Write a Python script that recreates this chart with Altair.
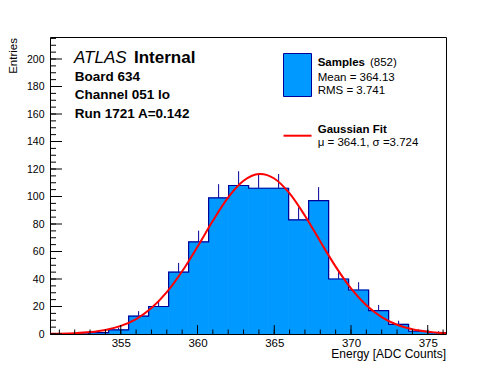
import altair as alt
import pandas as pd
import math

# ---------------- data ----------------
BIN_START = 350.30
BIN_WIDTH = 1.303
COUNTS = [0, 0, 1, 3, 13, 20, 45, 67, 99, 108, 106, 106, 83, 97, 40, 32, 17, 7, 2, 1]

FIT_X = [350.4, 351, 352, 353, 354, 355, 356, 357, 358, 359, 360, 361, 362, 363,
         364, 364.1, 365, 366, 367, 368, 369, 370, 371, 372, 373, 374, 375, 376, 376.2]
FIT_Y = [0.13, 0.24, 0.59, 1.37, 2.94, 5.88, 10.9, 18.9, 30.4, 45.6, 63.5, 82.3, 99.3, 111.4,
         116.4, 116.4, 113.1, 102.2, 86.0, 67.3, 49.0, 33.2, 20.9, 12.3, 6.7, 3.4, 1.6, 0.71, 0.59]

X_DOMAIN = [350.39, 376.19]
Y_DOMAIN = [0, 216]
X_MAJOR = [355, 360, 365, 370, 375]
X_MINOR = list(range(351, 377))
Y_MAJOR = list(range(0, 201, 20))
Y_MINOR = list(range(0, 216, 5))

W, H = 396, 297
FONT = "Liberation Sans"
FILL = "#0099ff"
EDGE = "#000099"

# ---------------- tables ----------------
lo = [BIN_START + i * BIN_WIDTH for i in range(len(COUNTS))]
hi = [v + BIN_WIDTH for v in lo]
bins = pd.DataFrame({
    "lo": lo, "hi": hi, "count": COUNTS,
    "center": [(a + b) / 2 for a, b in zip(lo, hi)],
})
bins["elo"] = [c - math.sqrt(c) for c in COUNTS]
bins["ehi"] = [c + math.sqrt(c) for c in COUNTS]
steps = pd.DataFrame({"x": lo + [hi[-1]], "y": COUNTS + [COUNTS[-1]]})
fit = pd.DataFrame({"x": FIT_X, "y": FIT_Y})

xs = alt.Scale(domain=X_DOMAIN, nice=False, zero=False)
ys = alt.Scale(domain=Y_DOMAIN, nice=False, zero=False)

xaxis = alt.Axis(values=X_MAJOR, ticks=False, tickSize=0, domain=False, grid=False,
                 labelFont=FONT, labelFontSize=11.5, labelPadding=3, labelColor="black",
                 title=None, format="d")
yaxis = alt.Axis(values=Y_MAJOR, ticks=False, tickSize=0, domain=False, grid=False,
                 labelFont=FONT, labelFontSize=10.5, labelPadding=6, labelColor="black",
                 title=None, format="d")

def X(field):
    return alt.X(field, scale=xs, axis=xaxis)

def Y(field):
    return alt.Y(field, scale=ys, axis=yaxis)

err = alt.Chart(bins[bins["count"] > 0]).mark_rule(color=EDGE, strokeWidth=1, clip=True).encode(
    x=X("center:Q"), y=Y("elo:Q"), y2="ehi:Q",
)
bars = alt.Chart(bins).mark_rect(color=FILL, stroke=FILL, strokeWidth=0.8, clip=True).encode(
    x=X("lo:Q"), x2="hi:Q", y=Y("count:Q"), y2=alt.datum(0),
)
outline = alt.Chart(steps).mark_line(color=EDGE, strokeWidth=1.2, interpolate="step-after", clip=True).encode(
    x=X("x:Q"), y=Y("y:Q"),
)
curve = alt.Chart(fit).mark_line(color="#ff0000", strokeWidth=2, interpolate="monotone", clip=True).encode(
    x=X("x:Q"), y=Y("y:Q"),
)

def xticks(vals, length):
    return alt.Chart(pd.DataFrame({"v": vals})).mark_rule(color="black", strokeWidth=1).encode(
        x=X("v:Q"), y=alt.value(H), y2=alt.value(H - length))

def yticks(vals, length):
    return alt.Chart(pd.DataFrame({"v": vals})).mark_rule(color="black", strokeWidth=1).encode(
        y=Y("v:Q"), x=alt.value(0), x2=alt.value(length))

def label(text, x, y, size, weight="normal", style="normal", align="left", angle=0):
    return alt.Chart(pd.DataFrame({"t": [text]})).mark_text(
        font=FONT, fontSize=size, fontWeight=weight, fontStyle=style, align=align,
        baseline="alphabetic", color="black", angle=angle,
    ).encode(text="t:N", x=alt.value(x), y=alt.value(y))

legend_box = alt.Chart(pd.DataFrame({"a": [0]})).mark_rect(color=FILL, stroke=EDGE, strokeWidth=1).encode(
    x=alt.value(233.5), x2=alt.value(261.5), y=alt.value(16.5), y2=alt.value(59.5))
legend_line = alt.Chart(pd.DataFrame({"a": [0]})).mark_rule(color="#ff0000", strokeWidth=2).encode(
    x=alt.value(233.5), x2=alt.value(261.5), y=alt.value(98.7))

texts = [
    label("ATLAS", 24, 25.7, 17, style="italic"),
    label("Internal", 84, 25.7, 17, weight="bold"),
    label("Board 634", 24.7, 44, 13.5, weight="bold"),
    label("Channel 051 lo", 24.7, 62, 13.5, weight="bold"),
    label("Run 1721 A=0.142", 24.7, 80.7, 13.5, weight="bold"),
    label("Samples", 267.7, 28.7, 11.5, weight="bold"),
    label("(852)", 320, 28.7, 11.5),
    label("Mean = 364.13", 267.7, 43.7, 11.5),
    label("RMS = 3.741", 267.7, 57, 11.5),
    label("Gaussian Fit", 267.7, 95.7, 11.5, weight="bold"),
    label("\u03bc = 364.1, \u03c3 =3.724", 267.7, 109, 11.5),
    label("Energy [ADC Counts]", W, 321.3, 12, align="right"),
    label("Entries", -33, 1, 11.5, align="right", angle=270),
]

chart = alt.layer(
    err, bars, outline, curve,
    xticks(X_MAJOR, 9), xticks(X_MINOR, 4.5),
    yticks(Y_MAJOR, 12), yticks(Y_MINOR, 6),
    legend_box, legend_line,
    *texts,
).properties(
    width=W, height=H,
    autosize=alt.AutoSizeParams(type="none"),
    padding={"left": 42, "top": 29, "right": 10, "bottom": 30},
).configure(font=FONT).configure_view(stroke="black", strokeWidth=1)

chart.save("out.html", embed_options={"renderer": "svg", "actions": False})
